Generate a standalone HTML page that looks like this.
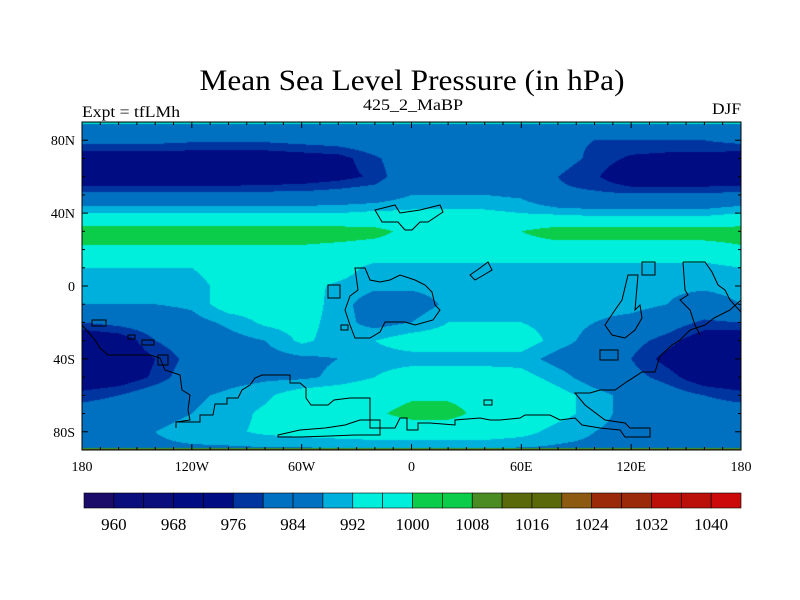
<!DOCTYPE html>
<html><head><meta charset="utf-8"><style>
html,body{margin:0;padding:0;background:#fff;}
#wrap{position:relative;width:800px;height:600px;}
canvas{position:absolute;left:82px;top:122px;}
svg{position:absolute;left:0;top:0;}
text{font-family:"Liberation Serif",serif;fill:#000;}
</style></head><body>
<div id="wrap">
<canvas id="cv" width="659" height="328"></canvas>
<svg id="sv" width="800" height="600">
<text x="412" y="90" font-size="30" text-anchor="middle" textLength="425" lengthAdjust="spacingAndGlyphs">Mean Sea Level Pressure (in hPa)</text>
<text x="82" y="117" font-size="16" textLength="98" lengthAdjust="spacingAndGlyphs">Expt = tfLMh</text>
<text x="413" y="110" font-size="16" text-anchor="middle" textLength="100" lengthAdjust="spacingAndGlyphs">425_2_MaBP</text>
<text x="741" y="114" font-size="16" text-anchor="end" textLength="29" lengthAdjust="spacingAndGlyphs">DJF</text>
<g id="coast" fill="none" stroke="#000" stroke-width="1">
<path d="M176,428 L176,422 L200,422 L200,415 L213,415 L215,404 L227,404 L227,398 L238,398 L242,390 L250,385 L255,378 L262,375 L268,375 L290,375 L290,383 L300,383 L306,388 L306,398 L311,405 L328,405 L334,400 L350,398 L360,398 L370,398 L370,428 L395,428 L400,418 L407,418 L407,430 L418,430 L418,423 L430,423 L455,425 L455,420 L480,418 L490,420 L500,420 L520,418 L525,415 L550,415 L560,420 L575,418 L582,425 L600,428 L620,430 L625,437 L650,437 L650,428 L630,428 L625,423 L605,420 L585,405 L575,393 L590,393 L600,390 L615,390 L625,383 L642,372 L655,372 L660,356 L672,345 L680,340 L690,330 L705,325 L714,318 L730,310 L741,300" />
<path d="M278,435 L300,430 L325,428 L345,425 L360,420 L380,420 L380,435 L355,435 L330,436 L300,437 L278,437 Z"/>
<path d="M82,325 L95,340 L100,348 L108,355 L150,355 L160,358 L165,370 L180,375 L182,390 L190,395 L188,410 L190,420 L176,422"/>
<path d="M92,320 L106,320 L106,326 L92,326 Z M128,335 L135,335 L135,339 L128,339 Z M142,340 L154,340 L154,345 L142,345 Z M158,355 L168,355 L168,365 L158,365 Z"/>
<path d="M375,210 L395,205 L400,213 L420,210 L440,205 L443,212 L437,216 L428,222 L420,222 L412,230 L405,230 L398,222 L382,222 Z"/>
<path d="M355,268 L365,268 L370,280 L380,282 L390,280 L400,275 L415,280 L425,285 L432,292 L435,305 L440,310 L433,320 L415,325 L405,322 L385,322 L380,332 L370,338 L355,338 L350,325 L345,310 L350,296 L358,290 Z"/>
<path d="M328,285 L340,285 L340,298 L328,298 Z M341,325 L348,325 L348,330 L341,330 Z"/>
<path d="M470,275 L480,268 L488,262 L492,270 L482,276 L475,280 Z"/>
<path d="M628,275 L638,275 L635,310 L640,305 L642,318 L635,330 L625,338 L612,335 L605,325 L615,310 L622,300 Z"/>
<path d="M642,262 L655,262 L655,275 L642,275 Z M600,350 L618,350 L618,360 L600,360 Z"/>
<path d="M683,262 L705,262 L712,272 L718,285 L725,290 L730,300 L741,312"/>
<path d="M683,262 L685,290 L688,295 L680,300 L690,310 L695,325 L700,335"/>
<path d="M484,400 L492,400 L492,405 L484,405 Z"/>
</g>
<rect x="82" y="122" width="659" height="328" fill="none" stroke="#000" stroke-width="1"/>
<g id="ticks"></g>
<g id="cbar"></g>
</svg>
</div>
<script>
// ---- data ----
const lats = [90,80,70,60,50,40,30,20,10,0,-10,-20,-30,-40,-50,-60,-70,-80,-90];
const lons = [-180,-160,-140,-120,-100,-80,-60,-40,-20,0,20,40,60,80,100,120,140,160,180];
const mslp = [
[986,986,986,986,986,986,986,986,986,986,986,986,986,986,986,986,986,986,986],
[982,982,982,981,981,981,982,983,985,986,986,986,985,981,980,980,980,980,982],
[972,972,972,972,972,972,973,974,979,985,985,985,984,982,979,975,974,974,972],
[970,970,970,970,970,971,972,974,977,986,986,986,985,980,977,970,970,970,970],
[982,982,982,982,982,982,982,983,984,988,988,988,987,981,981,981,981,981,982],
[992,992,992,992,992,992,992,992,993,993,993,993,992,991,990,990,990,990,992],
[1003,1003,1003,1003,1003,1003,1003,1003,1002,998,996,997,1000,1003,1003,1003,1003,1003,1003],
[999,999,999,999,999,999,999,998,997,997,997,997,997,997,997,997,997,997,999],
[992,992,992,992,995,995,995,995,990,990,990,990,990,990,990,990,990,990,992],
[990,990,990,990,994,994,994,991,989,989,990,990,990,990,990,989,989,989,990],
[988,988,988,989,995,995,995,990,985,985,989,990,990,990,990,990,988,985,988],
[980,982,984,986,989,993,994,990,986,988,992,992,992,990,988,986,983,979,980],
[970,972,980,984,986,988,993,990,992,995,995,995,995,990,986,982,978,972,970],
[968,970,976,982,985,986,987,988,990,990,990,990,990,986,984,980,974,969,968],
[970,972,977,984,986,987,987,989,992,995,995,995,994,990,985,982,978,972,970],
[978,980,984,987,989,991,995,996,997,999,999,998,997,994,990,986,983,980,978],
[983,984,986,988,990,993,996,997,999,1002,1002,998,997,994,990,986,984,983,983],
[985,986,988,990,991,993,994,995,996,996,996,996,994,990,988,986,985,985,985],
[987,987,987,987,987,987,987,987,987,987,987,987,987,987,987,987,987,987,987]
];
const levels = [960,964,968,972,976,980,984,988,992,996,1000,1004,1008,1012,1016,1020,1024,1028,1032,1036,1040];
const colors = ["#1c0c6a","#0a0d7c","#0a0d7c","#000c82","#000c82","#0035a0","#0070c0","#0070c0","#00b0dc","#00eedc","#00eedc","#0ccd4a","#0ccd4a","#4a8c22","#5a6a0a","#5a6a0a","#8c5a10","#9a2a0a","#9a2a0a","#bb100a","#bb100a","#cc0a0a"];
const barLabels = ["960","968","976","984","992","1000","1008","1016","1024","1032","1040"];
const latTicks = [80,40,0,-40,-80];
const latTickLabels = ["80N","40N","0","40S","80S"];
const lonTicks = [-180,-120,-60,0,60,120,180];
const lonTickLabels = ["180","120W","60W","0","60E","120E","180"];

// ---- axes ----
const X0=82, X1=741, Y0=122, Y1=450;
const xOf = lon => X0 + (lon+180)/360*(X1-X0);
const yOf = lat => Y0 + (90-lat)/180*(Y1-Y0);
function colorFor(v){let i=0;while(i<levels.length&&v>=levels[i])i++;return colors[i];}
function hex(c){return [parseInt(c.substr(1,2),16),parseInt(c.substr(3,2),16),parseInt(c.substr(5,2),16)];}
function sample(lon,lat){
  const fx=(lon-lons[0])/(lons[1]-lons[0]), fy=(lats[0]-lat)/(lats[0]-lats[1]);
  const i=Math.min(Math.floor(fx),lons.length-2), j=Math.min(Math.floor(fy),lats.length-2);
  const u=fx-i, w=fy-j;
  const a=mslp[j][i],b=mslp[j][i+1],c=mslp[j+1][i],d=mslp[j+1][i+1];
  return (a*(1-u)+b*u)*(1-w)+(c*(1-u)+d*u)*w;
}
// ---- field ----
const cv=document.getElementById('cv'),ctx=cv.getContext('2d');
const W=cv.width,H=cv.height,img=ctx.createImageData(W,H);
for(let py=0;py<H;py++){
  const lat=90-(py+0.5)/H*180;
  for(let px=0;px<W;px++){
    const lon=-180+(px+0.5)/W*360;
    const rgb=hex(colorFor(sample(lon,lat)));
    const k=(py*W+px)*4;img.data[k]=rgb[0];img.data[k+1]=rgb[1];img.data[k+2]=rgb[2];img.data[k+3]=255;
  }
}
ctx.putImageData(img,0,0);
ctx.fillStyle="#00d8c8";ctx.fillRect(0,0,W,2);
ctx.fillStyle="#3a9a20";ctx.fillRect(0,H-2,W,1);
ctx.fillStyle="#6a4a20";ctx.fillRect(0,H-1,W,1);

const NS="http://www.w3.org/2000/svg";
function mk(tag,attrs,parent){const e=document.createElementNS(NS,tag);for(const k in attrs)e.setAttribute(k,attrs[k]);parent.appendChild(e);return e;}
// ---- ticks ----
const tg=document.getElementById('ticks');
for(let lon=-180;lon<=180;lon+=10){
  const major=lon%60===0, len=major?6:3, x=xOf(lon);
  const t1=mk('line',{x1:x,x2:x,y1:Y0,y2:Y0+len,stroke:'#000','stroke-width':1},tg);
  
  
  const t2=mk('line',{x1:x,x2:x,y1:Y1,y2:Y1-len,stroke:'#000','stroke-width':1},tg);
  
  
}
for(let lat=-90;lat<=90;lat+=10){
  const major=latTicks.indexOf(lat)>=0, len=major?6:3, y=yOf(lat);
  const t1=mk('line',{x1:X0,x2:X0+len,y1:y,y2:y,stroke:'#000','stroke-width':1},tg);
  
  
  const t2=mk('line',{x1:X1,x2:X1-len,y1:y,y2:y,stroke:'#000','stroke-width':1},tg);
  
  
}
latTicks.forEach((lat,i)=>{
  const t=mk('text',{x:75,y:yOf(lat)+5,'font-size':14,'text-anchor':'end'},tg);
  t.textContent=latTickLabels[i];
  
  
});
lonTicks.forEach((lon,i)=>{
  const t=mk('text',{x:xOf(lon),y:471,'font-size':14,'text-anchor':'middle'},tg);
  t.textContent=lonTickLabels[i];
  
  
});
// ---- colorbar ----
const cb=document.getElementById('cbar');
const CB0=84,CB1=741,bw=(CB1-CB0)/colors.length;
colors.forEach((c,i)=>{
  const r=mk('rect',{x:CB0+i*bw,y:493,width:bw,height:15,fill:c,stroke:'#000','stroke-width':0.6},cb);
  
  
});
barLabels.forEach((lab,i)=>{
  const t=mk('text',{x:CB0+(1+2*i)*bw,y:530,'font-size':17,'text-anchor':'middle'},cb);
  t.textContent=lab;
  
  
});
</script>
</body></html>
